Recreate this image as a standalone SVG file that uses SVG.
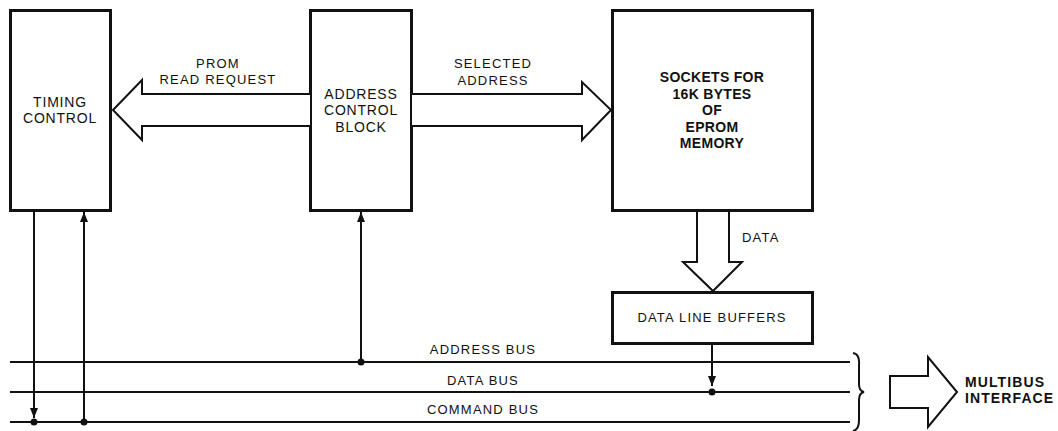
<svg xmlns="http://www.w3.org/2000/svg" width="1058" height="431" viewBox="0 0 1058 431">
<style>
.box{fill:#fff;stroke:#111;stroke-width:3}
.fat{fill:#fff;stroke:#111;stroke-width:2;stroke-linejoin:miter}
.ln{fill:none;stroke:#111;stroke-width:2}
.dot{fill:#111}
text{font-family:"Liberation Sans",Arial,sans-serif;fill:#111;text-anchor:middle}
.lbl{font-size:13px;letter-spacing:1.2px}
.nd{font-size:14px;letter-spacing:0.8px}
.bd{font-size:14px;font-weight:bold;letter-spacing:0.3px}
.mb{font-size:14px;font-weight:bold;letter-spacing:1.1px;text-anchor:start}
</style>
<defs>
<marker id="ah" viewBox="0 0 10 8" refX="10" refY="4" markerWidth="10" markerHeight="8" markerUnits="userSpaceOnUse" orient="auto">
<path d="M0,0 L10,4 L0,8 Z" fill="#111"/>
</marker>
</defs>
<g id="timing">
<rect class="box" x="10.5" y="10.5" width="100" height="200"/>
<text class="nd" x="60" y="107">TIMING</text>
<text class="nd" x="60" y="123">CONTROL</text>
</g>
<g id="address-control">
<rect class="box" x="310.5" y="10.5" width="101" height="200"/>
<text class="nd" x="361" y="99">ADDRESS</text>
<text class="nd" x="361" y="115">CONTROL</text>
<text class="nd" x="361" y="132">BLOCK</text>
</g>
<g id="sockets">
<rect class="box" x="612.5" y="10.5" width="200" height="200"/>
<text class="bd" x="712" y="82">SOCKETS FOR</text>
<text class="bd" x="712" y="99">16K BYTES</text>
<text class="bd" x="712" y="115">OF</text>
<text class="bd" x="712" y="132">EPROM</text>
<text class="bd" x="712" y="148">MEMORY</text>
</g>
<g id="buffers">
<rect class="box" x="612.5" y="292.5" width="200" height="51"/>
<text class="lbl" x="712" y="322">DATA LINE BUFFERS</text>
</g>
<g id="multibus">
<path class="fat" d="M890,376 L928,376 L928,357 L957,392 L928,427 L928,408 L890,408 Z"/>
<text class="mb" x="965" y="387">MULTIBUS</text>
<text class="mb" x="965" y="403">INTERFACE</text>
</g>
<g id="connectors">
<path class="fat" d="M310,94 L142,94 L142,80 L113,110 L142,140 L142,126 L310,126"/>
<text class="lbl" x="218" y="68">PROM</text>
<text class="lbl" x="218" y="84">READ REQUEST</text>
<path class="fat" d="M412,94 L582,94 L582,82 L611,110 L582,140 L582,126 L412,126"/>
<text class="lbl" x="493" y="68">SELECTED</text>
<text class="lbl" x="493" y="85">ADDRESS</text>
<path class="fat" d="M697,212 L697,262 L683,262 L713,291 L742,262 L729,262 L729,212"/>
<text class="lbl" x="742" y="242" style="text-anchor:start">DATA</text>
<line class="ln" x1="10" y1="362" x2="850" y2="362"/>
<line class="ln" x1="10" y1="392" x2="850" y2="392"/>
<line class="ln" x1="10" y1="422" x2="850" y2="422"/>
<text class="lbl" x="483" y="354">ADDRESS BUS</text>
<text class="lbl" x="483" y="385">DATA BUS</text>
<text class="lbl" x="483" y="414">COMMAND BUS</text>
<path class="ln" d="M853,353 Q860,354 859,365 L859,384 Q859,391 864,392 Q859,393 859,400 L859,420 Q859,430 853,431"/>
<line class="ln" x1="34" y1="212" x2="34" y2="418" marker-end="url(#ah)"/>
<line class="ln" x1="84" y1="422" x2="84" y2="212" marker-end="url(#ah)"/>
<line class="ln" x1="361" y1="362" x2="361" y2="212" marker-end="url(#ah)"/>
<line class="ln" x1="712" y1="345" x2="712" y2="386" marker-end="url(#ah)"/>
<circle class="dot" cx="34" cy="422" r="3.5"/>
<circle class="dot" cx="84" cy="422" r="3.5"/>
<circle class="dot" cx="361" cy="362" r="3.5"/>
<circle class="dot" cx="712" cy="392" r="3.5"/>
</g>
</svg>
